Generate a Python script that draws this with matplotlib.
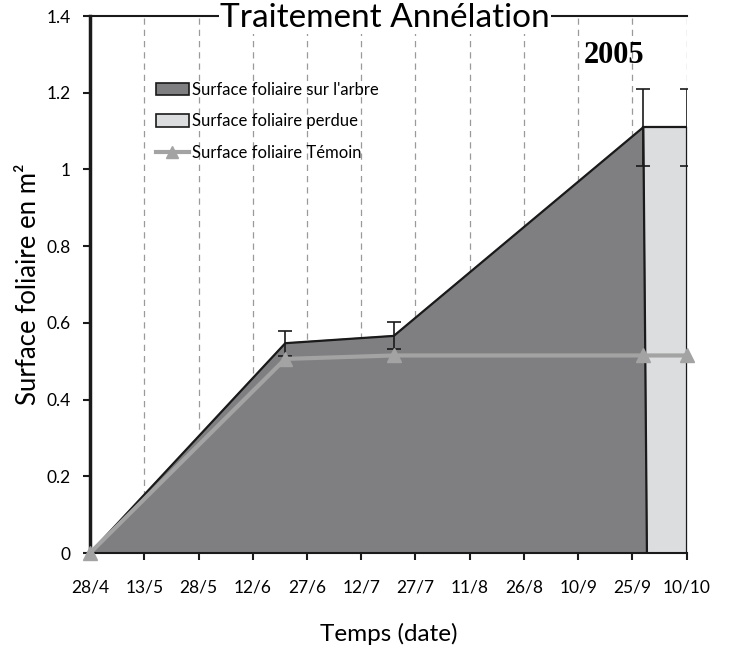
import pandas as pd
import numpy as np
import matplotlib
matplotlib.use("Agg")
import matplotlib.pyplot as plt
import matplotlib.dates as mdates
from matplotlib.patches import Patch
from matplotlib.lines import Line2D

# surface foliaire sur l'arbre (dark area)
arbre_dates = ["2005-04-28", "2005-06-21", "2005-07-21", "2005-09-28", "2005-09-29"]
arbre_vals = [0.0, 0.547, 0.566, 1.11, 0.0]
arbre_err_dates = ["2005-06-21", "2005-07-21", "2005-09-28", "2005-10-10"]
arbre_err_vals = [0.547, 0.566, 1.11, 1.11]
arbre_err = [0.033, 0.035, 0.10, 0.10]

# surface foliaire perdue (light area)
perdue_dates = ["2005-09-28", "2005-10-10"]
perdue_vals = [1.11, 1.11]

# temoin
temoin_dates = ["2005-04-28", "2005-06-21", "2005-07-21", "2005-09-28", "2005-10-10"]
temoin_vals = [0.0, 0.506, 0.515, 0.515, 0.515]

tick_dates = pd.date_range("2005-04-28", periods=12, freq="15D")
y_ticks = [0, 0.2, 0.4, 0.6, 0.8, 1.0, 1.2, 1.4]
y_labels = ["0", "0.2", "0.4", "0.6", "0.8", "1", "1.2", "1.4"]

plt.rcParams['font.family'] = ['Lato', 'DejaVu Sans']

fig = plt.figure(figsize=(7.29, 6.48), dpi=100)
ax = fig.add_axes([0.1235, 0.1466, 0.8185, 0.8287])

xa = mdates.date2num(pd.to_datetime(arbre_dates))
xp = mdates.date2num(pd.to_datetime(perdue_dates))
xe = mdates.date2num(pd.to_datetime(arbre_err_dates))
xt = mdates.date2num(pd.to_datetime(temoin_dates))
xticks = mdates.date2num(tick_dates)

# dashed vertical grid
for x in xticks[1:]:
    ax.axvline(x, color="#9a9a9a", lw=0.9, ls=(0, (5, 4)), zorder=0)

ax.fill_between(xp, 0, perdue_vals, color="#dcdddf", zorder=1)
ax.plot([xp[0], xp[1], xp[1]], [perdue_vals[0], perdue_vals[1], 0], color="#1a1a1a", lw=1.6, zorder=2)
ax.fill(np.r_[xa, xa[0]], np.r_[arbre_vals, arbre_vals[0]], color="#7f7f82", zorder=2)
ax.plot(xa, arbre_vals, color="#1a1a1a", lw=1.6, zorder=3)

ax.errorbar(xe, arbre_err_vals, yerr=arbre_err, fmt="none", ecolor="#1a1a1a",
            elinewidth=1.2, capsize=5, capthick=1.2, zorder=4)

ax.plot(xt, temoin_vals, color="#a3a3a3", lw=3, marker="^", markersize=10,
        markerfacecolor="#a3a3a3", markeredgecolor="#a3a3a3", zorder=5, clip_on=False)

ax.set_xlim(xticks[0], xticks[-1])
ax.set_ylim(0, 1.4)
ax.set_xticks(xticks)
ax.set_xticklabels([f"{d.day}/{d.month}" for d in tick_dates], fontsize=12.5)
ax.set_yticks(y_ticks)
ax.set_yticklabels(y_labels, fontsize=12.5)
ax.tick_params(axis="both", direction="out", length=5, width=1.5, color="#1a1a1a")
ax.tick_params(axis="x", pad=14)
ax.tick_params(axis="y", pad=9)

ax.spines["right"].set_visible(False)
ax.spines["left"].set_linewidth(2.5)
ax.spines["bottom"].set_linewidth(1.5)
ax.spines["top"].set_linewidth(1.5)
for s in ax.spines.values():
    s.set_color("#1a1a1a")

ax.set_xlabel("Temps (date)", fontsize=17.5, labelpad=20)
ax.set_ylabel("Surface foliaire en m²", fontsize=18.5, labelpad=4)

ax.text(0.494, 0.996, "Traitement Annélation", transform=ax.transAxes, ha="center", va="center",
        fontsize=24, bbox=dict(facecolor="white", edgecolor="none", pad=1), zorder=10)
ax.text(0.878, 0.927, "2005", transform=ax.transAxes, ha="center", va="center",
        fontsize=22, fontweight="bold", family="Liberation Serif", zorder=10)

handles = [
    Patch(facecolor="#7f7f82", edgecolor="#1a1a1a", lw=1.2, label="Surface foliaire sur l'arbre"),
    Patch(facecolor="#dcdddf", edgecolor="#1a1a1a", lw=1.2, label="Surface foliaire perdue"),
    Line2D([], [], color="#a3a3a3", lw=3, marker="^", markersize=9, label="Surface foliaire Témoin"),
]
ax.legend(handles=handles, loc="upper left", bbox_to_anchor=(0.11, 0.878), frameon=False,
          borderaxespad=0, borderpad=0, fontsize=12, handlelength=2.0, handleheight=0.75,
          labelspacing=0.95, handletextpad=0.2)

fig.savefig("out.png", dpi=100)
